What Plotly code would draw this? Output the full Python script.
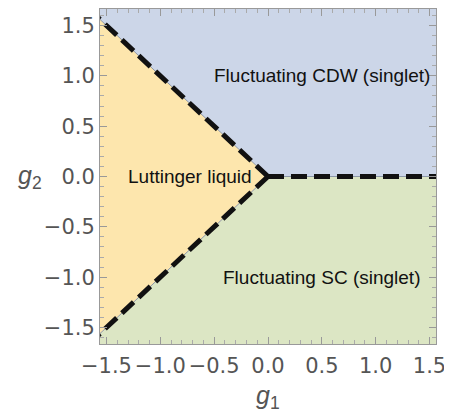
import plotly.graph_objects as go

# Phase boundaries (g1, g2)
upper_g1 = [-1.7, 0.0]
upper_g2 = [1.7, 0.0]
lower_g1 = [-1.7, 0.0]
lower_g2 = [-1.7, 0.0]
right_g1 = [0.0, 1.7]
right_g2 = [0.0, 0.0]

x_range = [-1.56, 1.56]
y_range = [-1.664, 1.664]
tick_vals = [-1.5, -1.0, -0.5, 0.0, 0.5, 1.0, 1.5]

labels = ["Fluctuating CDW (singlet)", "Luttinger liquid", "Fluctuating SC (singlet)"]
label_x = [0.5, -0.72, 0.5]
label_y = [1.0, 0.0, -1.0]

C_CDW = "#ccd6e8"
C_LL = "#fde6ad"
C_SC = "#dce6c4"

big = 2.0
fig = go.Figure()
# CDW region
fig.add_trace(go.Scatter(
    x=upper_g1 + right_g1[1:] + [big, -big],
    y=upper_g2 + right_g2[1:] + [big, big],
    fill="toself", fillcolor=C_CDW, line=dict(width=0), mode="lines", hoverinfo="skip"))
# SC region
fig.add_trace(go.Scatter(
    x=lower_g1 + right_g1[1:] + [big, -big],
    y=lower_g2 + right_g2[1:] + [-big, -big],
    fill="toself", fillcolor=C_SC, line=dict(width=0), mode="lines", hoverinfo="skip"))
# Luttinger liquid region
fig.add_trace(go.Scatter(
    x=upper_g1 + lower_g1[::-1],
    y=upper_g2 + lower_g2[::-1],
    fill="toself", fillcolor=C_LL, line=dict(width=0), mode="lines", hoverinfo="skip"))

# thin boundary lines
for bx, by in [(upper_g1, upper_g2), (lower_g1, lower_g2), (right_g1, right_g2)]:
    fig.add_trace(go.Scatter(x=bx, y=by, mode="lines",
                             line=dict(color="#8d98a8", width=1), hoverinfo="skip"))
# dashed thick lines
for bx, by in [(upper_g1[::-1], upper_g2[::-1]), (lower_g1[::-1], lower_g2[::-1]), (right_g1, right_g2)]:
    fig.add_trace(go.Scatter(x=bx, y=by, mode="lines",
                             line=dict(color="#111111", width=5, dash="16px,7px"), hoverinfo="skip"))

for t, x, y in zip(labels, label_x, label_y):
    fig.add_annotation(x=x, y=y, text=t, showarrow=False,
                       font=dict(family="Liberation Sans", size=19, color="#111111"))

# axis titles
fig.add_annotation(xref="paper", yref="paper", x=0.5, y=-0.158, yanchor="middle",
                   text="<i>g</i><sub>1</sub>", showarrow=False,
                   font=dict(family="Liberation Sans", size=25, color="#555555"))
fig.add_annotation(xref="paper", yref="paper", x=-0.208, y=0.5, xanchor="center",
                   text="<i>g</i><sub>2</sub>", showarrow=False,
                   font=dict(family="Liberation Sans", size=25, color="#555555"))

axis_common = dict(
    tickvals=tick_vals, tickformat=".1f", ticks="inside", ticklen=7, tickwidth=1,
    tickcolor="#999999", showgrid=False, zeroline=False, showline=True,
    linecolor="#999999", linewidth=1, mirror="ticks", automargin=False,
    tickfont=dict(family="DejaVu Sans", size=21, color="#555555"),
    minor=dict(dtick=0.1, ticks="inside", ticklen=4, tickcolor="#aaaaaa", showgrid=False),
)
fig.update_xaxes(range=x_range, ticklabelstandoff=3, **axis_common)
fig.update_yaxes(range=y_range, **axis_common)
fig.update_layout(
    width=444, height=405, showlegend=False,
    margin=dict(l=92, r=16, t=1, b=69),
    plot_bgcolor="white", paper_bgcolor="white",
)
fig.write_html("out.html")
